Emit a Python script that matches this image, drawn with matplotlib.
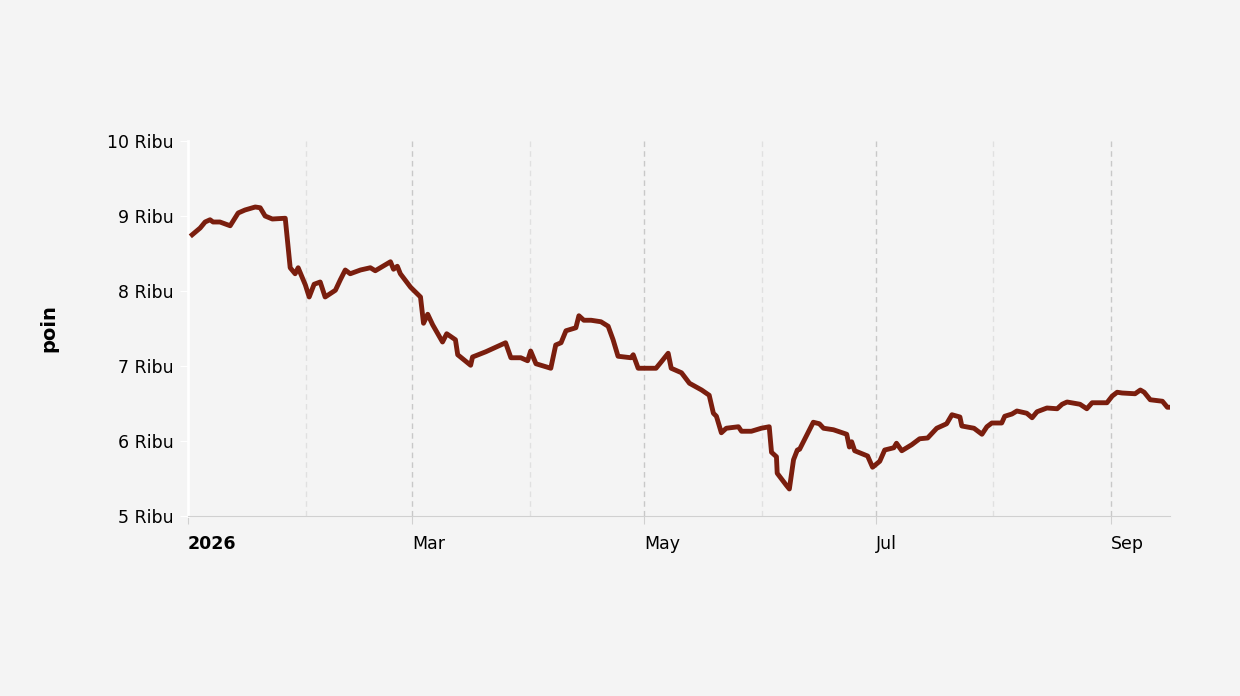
import matplotlib
matplotlib.use("Agg")
import matplotlib.pyplot as plt
import numpy as np
import datetime as dt
from matplotlib.transforms import ScaledTranslation

days = [1.1,3.2,4.5,5.8,6.6,8.4,11.1,13.2,15.0,17.7,19.0,20.3,22.2,25.6,26.9,28.2,29.0,30.9,31.9,33.2,34.8,36.1,38.8,40.1,41.4,42.7,45.4,48.0,49.3,52.0,53.3,54.1,55.1,55.9,58.6,61.2,62.0,63.1,64.4,67.0,68.1,70.4,71.0,74.4,74.9,78.4,82.3,83.6,85.0,87.6,89.4,90.2,91.6,95.5,96.8,98.2,99.5,102.1,102.9,104.2,106.1,108.7,110.6,111.9,113.2,116.6,117.2,118.5,123.2,124.5,126.4,127.2,129.9,132.0,135.2,137.2,138.3,139.1,140.4,141.7,144.9,145.7,148.3,150.9,153.0,153.6,154.9,155.1,157.5,158.3,159.4,160.4,161.0,164.6,166.2,167.3,169.9,173.4,174.1,174.7,175.5,178.9,180.2,182.1,183.4,185.8,186.5,187.9,190.5,192.6,194.7,197.1,199.7,201.1,203.2,203.7,206.9,209.0,210.3,211.6,214.2,215.0,216.9,218.2,220.8,222.2,223.5,226.1,228.8,230.1,231.4,234.8,236.6,238.0,241.9,243.3,244.6,245.9,249.3,250.7,251.7,253.3,256.5,257.8,258.6]
values = [8.75,8.84,8.92,8.95,8.92,8.92,8.87,9.04,9.08,9.12,9.11,9.0,8.96,8.97,8.31,8.23,8.31,8.08,7.92,8.09,8.12,7.92,8.01,8.15,8.28,8.23,8.28,8.31,8.27,8.35,8.39,8.29,8.33,8.23,8.05,7.92,7.57,7.69,7.55,7.32,7.43,7.35,7.15,7.01,7.12,7.19,7.28,7.31,7.11,7.11,7.07,7.2,7.03,6.97,7.28,7.31,7.47,7.51,7.67,7.61,7.61,7.59,7.53,7.35,7.13,7.11,7.15,6.97,6.97,7.05,7.17,6.97,6.91,6.77,6.68,6.61,6.37,6.33,6.11,6.17,6.19,6.13,6.13,6.17,6.19,5.85,5.79,5.57,5.41,5.36,5.75,5.88,5.89,6.25,6.23,6.17,6.15,6.09,5.92,5.99,5.87,5.8,5.65,5.73,5.88,5.91,5.97,5.87,5.95,6.03,6.04,6.17,6.23,6.35,6.32,6.2,6.17,6.09,6.19,6.24,6.24,6.33,6.36,6.4,6.37,6.31,6.39,6.44,6.43,6.49,6.52,6.49,6.43,6.51,6.51,6.6,6.65,6.64,6.63,6.68,6.65,6.55,6.53,6.45,6.45]
ytick_vals = [5, 6, 7, 8, 9, 10]
ytick_labels = [f"{v} Ribu" for v in ytick_vals]

start = dt.datetime(2026, 1, 1)
dates = [start + dt.timedelta(days=d) for d in days]
vals = np.array(values) * 1000

bg = "#f4f4f4"
fig = plt.figure(figsize=(12.4, 6.96), dpi=100, facecolor=bg)
ax = fig.add_axes([188/1240, 1-516/696, (1170-188)/1240, (516-141)/696], facecolor=bg)
ax.plot(dates, vals, color="#7a1e0e", lw=3.5, solid_joinstyle="round", zorder=3)

ax.set_ylim(5000, 10000)
ax.set_yticks([v*1000 for v in ytick_vals])
ax.set_yticklabels(ytick_labels, fontsize=12.5)
ax.set_xlim(start + dt.timedelta(hours=18), dt.datetime(2026, 9, 16, 12))
major = [dt.datetime(2026, m, 1) for m in (1, 3, 5, 7, 9)]
minor = [dt.datetime(2026, m, 1) for m in (2, 4, 6, 8)]
ax.set_xticks(major)
ax.set_xticklabels(["2026", "Mar", "May", "Jul", "Sep"], fontsize=12.5, ha="left")
off = ScaledTranslation(5/100, 0, fig.dpi_scale_trans)
for i, lab in enumerate(ax.get_xticklabels()):
    if i > 0:
        lab.set_transform(lab.get_transform() + off)
ax.get_xticklabels()[0].set_fontweight("bold")
for m in major[1:]:
    ax.axvline(m, color="#c8c8c8", lw=1, ls=(0, (4, 3)), zorder=1)
for m in minor:
    ax.axvline(m, color="#e0e0e0", lw=1, ls=(0, (4, 3)), zorder=1)
ax.tick_params(axis="x", length=6, color="#d0d0d0", pad=8)
ax.tick_params(axis="y", length=6, color="white", pad=4)
for s in ("top", "right"):
    ax.spines[s].set_visible(False)
ax.spines["left"].set_color("white")
ax.spines["left"].set_linewidth(2)
ax.spines["bottom"].set_color("#d0d0d0")
ax.set_ylabel("poin", fontsize=14, fontweight="bold", labelpad=35)

fig.savefig("out.png", dpi=100, facecolor=bg)
